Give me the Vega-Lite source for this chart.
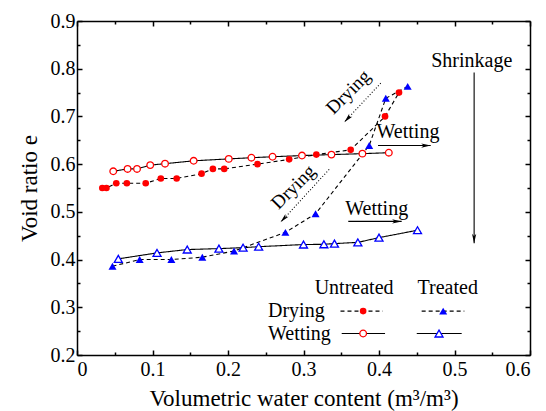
{
  "$schema": "https://vega.github.io/schema/vega-lite/v6.json",
  "width": 453,
  "height": 334,
  "autosize": {"type": "none"},
  "padding": {"left": 77, "top": 21, "right": 16, "bottom": 56},
  "config": {
    "view": {"stroke": null},
    "font": "Liberation Serif, Times New Roman, DejaVu Serif, serif",
    "text": {"font": "Liberation Serif, Times New Roman, DejaVu Serif, serif"},
    "axis": {
      "domainColor": "black", "domainWidth": 1.5, "tickColor": "black", "tickWidth": 1.5,
      "labelColor": "black", "titleColor": "black", "grid": false,
      "labelFont": "Liberation Serif, Times New Roman, DejaVu Serif, serif", "titleFont": "Liberation Serif, Times New Roman, DejaVu Serif, serif",
      "labelFontSize": 20, "titleFontSize": 23, "titleFontWeight": "normal"
    }
  },
  "datasets": {
    "pts": [
      {"treat": "Untreated", "phase": "Drying", "x": 0.0335, "y": 0.550},
      {"treat": "Untreated", "phase": "Drying", "x": 0.039, "y": 0.550},
      {"treat": "Untreated", "phase": "Drying", "x": 0.052, "y": 0.560},
      {"treat": "Untreated", "phase": "Drying", "x": 0.066, "y": 0.560},
      {"treat": "Untreated", "phase": "Drying", "x": 0.091, "y": 0.560},
      {"treat": "Untreated", "phase": "Drying", "x": 0.111, "y": 0.570},
      {"treat": "Untreated", "phase": "Drying", "x": 0.132, "y": 0.570},
      {"treat": "Untreated", "phase": "Drying", "x": 0.165, "y": 0.580},
      {"treat": "Untreated", "phase": "Drying", "x": 0.180, "y": 0.590},
      {"treat": "Untreated", "phase": "Drying", "x": 0.195, "y": 0.590},
      {"treat": "Untreated", "phase": "Drying", "x": 0.239, "y": 0.600},
      {"treat": "Untreated", "phase": "Drying", "x": 0.281, "y": 0.610},
      {"treat": "Untreated", "phase": "Drying", "x": 0.317, "y": 0.620},
      {"treat": "Untreated", "phase": "Drying", "x": 0.3625, "y": 0.630},
      {"treat": "Untreated", "phase": "Drying", "x": 0.408, "y": 0.700},
      {"treat": "Untreated", "phase": "Drying", "x": 0.4265, "y": 0.750},
      {"treat": "Untreated", "phase": "Wetting", "x": 0.048, "y": 0.585},
      {"treat": "Untreated", "phase": "Wetting", "x": 0.067, "y": 0.590},
      {"treat": "Untreated", "phase": "Wetting", "x": 0.0795, "y": 0.590},
      {"treat": "Untreated", "phase": "Wetting", "x": 0.097, "y": 0.598},
      {"treat": "Untreated", "phase": "Wetting", "x": 0.1166, "y": 0.601},
      {"treat": "Untreated", "phase": "Wetting", "x": 0.1545, "y": 0.607},
      {"treat": "Untreated", "phase": "Wetting", "x": 0.201, "y": 0.611},
      {"treat": "Untreated", "phase": "Wetting", "x": 0.231, "y": 0.6135},
      {"treat": "Untreated", "phase": "Wetting", "x": 0.259, "y": 0.6155},
      {"treat": "Untreated", "phase": "Wetting", "x": 0.298, "y": 0.618},
      {"treat": "Untreated", "phase": "Wetting", "x": 0.337, "y": 0.620},
      {"treat": "Untreated", "phase": "Wetting", "x": 0.378, "y": 0.622},
      {"treat": "Untreated", "phase": "Wetting", "x": 0.413, "y": 0.624},
      {"treat": "Treated", "phase": "Drying", "x": 0.047, "y": 0.386},
      {"treat": "Treated", "phase": "Drying", "x": 0.083, "y": 0.400},
      {"treat": "Treated", "phase": "Drying", "x": 0.125, "y": 0.400},
      {"treat": "Treated", "phase": "Drying", "x": 0.166, "y": 0.405},
      {"treat": "Treated", "phase": "Drying", "x": 0.208, "y": 0.418},
      {"treat": "Treated", "phase": "Drying", "x": 0.276, "y": 0.457},
      {"treat": "Treated", "phase": "Drying", "x": 0.316, "y": 0.496},
      {"treat": "Treated", "phase": "Drying", "x": 0.387, "y": 0.639},
      {"treat": "Treated", "phase": "Drying", "x": 0.409, "y": 0.738},
      {"treat": "Treated", "phase": "Drying", "x": 0.438, "y": 0.763},
      {"treat": "Treated", "phase": "Wetting", "x": 0.0547, "y": 0.4015},
      {"treat": "Treated", "phase": "Wetting", "x": 0.106, "y": 0.414},
      {"treat": "Treated", "phase": "Wetting", "x": 0.146, "y": 0.421},
      {"treat": "Treated", "phase": "Wetting", "x": 0.188, "y": 0.423},
      {"treat": "Treated", "phase": "Wetting", "x": 0.220, "y": 0.425},
      {"treat": "Treated", "phase": "Wetting", "x": 0.2406, "y": 0.427},
      {"treat": "Treated", "phase": "Wetting", "x": 0.300, "y": 0.4315},
      {"treat": "Treated", "phase": "Wetting", "x": 0.327, "y": 0.432},
      {"treat": "Treated", "phase": "Wetting", "x": 0.341, "y": 0.4335},
      {"treat": "Treated", "phase": "Wetting", "x": 0.372, "y": 0.436},
      {"treat": "Treated", "phase": "Wetting", "x": 0.400, "y": 0.446},
      {"treat": "Treated", "phase": "Wetting", "x": 0.451, "y": 0.4615}
    ],
    "legendLines": [
      {"treat": "Untreated", "phase": "Drying", "x": 0.349, "x2": 0.405, "y": 0.292},
      {"treat": "Treated", "phase": "Drying", "x": 0.4565, "x2": 0.513, "y": 0.292},
      {"treat": "Untreated", "phase": "Wetting", "x": 0.3506, "x2": 0.408, "y": 0.245},
      {"treat": "Treated", "phase": "Wetting", "x": 0.45, "x2": 0.5095, "y": 0.245}
    ],
    "legendPts": [
      {"treat": "Untreated", "phase": "Drying", "x": 0.379, "y": 0.292},
      {"treat": "Treated", "phase": "Drying", "x": 0.485, "y": 0.292},
      {"treat": "Untreated", "phase": "Wetting", "x": 0.379, "y": 0.245},
      {"treat": "Treated", "phase": "Wetting", "x": 0.4795, "y": 0.245}
    ],
    "legendHead": [
      {"label": "Untreated", "x": 0.367, "y": 0.340},
      {"label": "Treated", "x": 0.491, "y": 0.340}
    ],
    "legendRow": [
      {"label": "Drying", "x": 0.253, "y": 0.292},
      {"label": "Wetting", "x": 0.253, "y": 0.245}
    ],
    "notes": [
      {"label": "Shrinkage", "x": 0.5228, "y": 0.817},
      {"label": "Wetting", "x": 0.4384, "y": 0.667},
      {"label": "Wetting", "x": 0.397, "y": 0.507}
    ],
    "notesRot": [
      {"label": "Drying", "x": 0.3593, "y": 0.751},
      {"label": "Drying", "x": 0.2865, "y": 0.552}
    ],
    "solidArrows": [
      {"name": "Shrinkage", "x": 0.526, "y": 0.792, "x2": 0.526, "y2": 0.434},
      {"name": "Wetting", "x": 0.3987, "y": 0.639, "x2": 0.4685, "y2": 0.639},
      {"name": "Wetting", "x": 0.3593, "y": 0.480, "x2": 0.430, "y2": 0.480}
    ],
    "dottedArrows": [
      {"name": "Drying", "x": 0.4023, "y": 0.7697, "x2": 0.354, "y2": 0.688},
      {"name": "Drying", "x": 0.334, "y": 0.589, "x2": 0.2695, "y2": 0.478}
    ]
  },
  "encoding": {
    "x": {"field": "x", "type": "quantitative", "scale": {"domain": [0, 0.6], "nice": false, "zero": false}, "axis": null},
    "y": {"field": "y", "type": "quantitative", "scale": {"domain": [0.2, 0.9], "nice": false, "zero": false}, "axis": null}
  },
  "layer": [
    {
      "data": {"name": "pts"},
      "mark": {"type": "line", "color": "black", "strokeWidth": 1.1},
      "encoding": {
        "x": {"field": "x", "type": "quantitative", "scale": {"domain": [0, 0.6], "nice": false, "zero": false},
          "axis": {"orient": "bottom", "values": [0, 0.1, 0.2, 0.3, 0.4, 0.5, 0.6], "format": ".1~f", "tickSize": -5, "labelPadding": 9, "title": "Volumetric water content (m³/m³)", "titlePadding": 8}},
        "y": {"field": "y", "type": "quantitative", "scale": {"domain": [0.2, 0.9], "nice": false, "zero": false},
          "axis": {"orient": "left", "values": [0.2, 0.3, 0.4, 0.5, 0.6, 0.7, 0.8, 0.9], "format": ".1f", "tickSize": -5, "labelPadding": 7, "title": "Void ratio e", "titlePadding": 9}},
        "detail": {"field": "treat"},
        "strokeDash": {"field": "phase", "type": "nominal", "scale": {"domain": ["Drying", "Wetting"], "range": [[4, 3], [1, 0]]}, "legend": null}
      }
    },
    {
      "data": {"name": "pts"},
      "transform": [{"filter": "datum.phase == 'Drying'"}],
      "mark": {"type": "point", "filled": true, "opacity": 1},
      "encoding": {
        "x": {"field": "x", "type": "quantitative", "scale": {"domain": [0, 0.6], "nice": false, "zero": false},
          "axis": {"orient": "bottom", "values": [0.05, 0.15, 0.25, 0.35, 0.45, 0.55], "labels": false, "domain": false, "tickSize": -3, "title": null}},
        "y": {"field": "y", "type": "quantitative", "scale": {"domain": [0.2, 0.9], "nice": false, "zero": false},
          "axis": {"orient": "left", "values": [0.25, 0.35, 0.45, 0.55, 0.65, 0.75, 0.85], "labels": false, "domain": false, "tickSize": -3, "title": null}},
        "shape": {"field": "treat", "type": "nominal", "scale": {"domain": ["Untreated", "Treated"], "range": ["circle", "triangle-up"]}, "legend": null},
        "color": {"field": "treat", "type": "nominal", "scale": {"domain": ["Untreated", "Treated"], "range": ["#ff0000", "#0000ff"]}, "legend": null},
        "size": {"field": "treat", "type": "nominal", "scale": {"domain": ["Untreated", "Treated"], "range": [44, 64]}, "legend": null}
      }
    },
    {
      "data": {"name": "pts"},
      "transform": [{"filter": "datum.phase == 'Wetting'"}],
      "mark": {"type": "point", "filled": false, "fill": "white", "fillOpacity": 1, "strokeWidth": 1.3, "opacity": 1},
      "encoding": {
        "x": {"field": "x", "type": "quantitative", "scale": {"domain": [0, 0.6], "nice": false, "zero": false},
          "axis": {"orient": "top", "values": [0, 0.1, 0.2, 0.3, 0.4, 0.5, 0.6], "labels": false, "tickSize": -5, "title": null}},
        "y": {"field": "y", "type": "quantitative", "scale": {"domain": [0.2, 0.9], "nice": false, "zero": false},
          "axis": {"orient": "right", "values": [0.2, 0.3, 0.4, 0.5, 0.6, 0.7, 0.8, 0.9], "labels": false, "tickSize": -5, "title": null}},
        "shape": {"field": "treat", "type": "nominal", "scale": {"domain": ["Untreated", "Treated"], "range": ["circle", "triangle-up"]}, "legend": null},
        "stroke": {"field": "treat", "type": "nominal", "scale": {"domain": ["Untreated", "Treated"], "range": ["#ff0000", "#0000ff"]}, "legend": null},
        "size": {"field": "treat", "type": "nominal", "scale": {"domain": ["Untreated", "Treated"], "range": [32, 42]}, "legend": null}
      }
    },
    {
      "data": {"name": "legendLines"},
      "mark": {"type": "rule", "color": "black", "strokeWidth": 1.1},
      "encoding": {
        "x": {"field": "x", "type": "quantitative", "scale": {"domain": [0, 0.6], "nice": false, "zero": false},
          "axis": {"orient": "top", "values": [0.05, 0.15, 0.25, 0.35, 0.45, 0.55], "labels": false, "domain": false, "tickSize": -3, "title": null}},
        "x2": {"field": "x2"},
        "y": {"field": "y", "type": "quantitative", "scale": {"domain": [0.2, 0.9], "nice": false, "zero": false},
          "axis": {"orient": "right", "values": [0.25, 0.35, 0.45, 0.55, 0.65, 0.75, 0.85], "labels": false, "domain": false, "tickSize": -3, "title": null}},
        "strokeDash": {"field": "phase", "type": "nominal", "scale": {"domain": ["Drying", "Wetting"], "range": [[3, 3], [1, 0]]}, "legend": null}
      }
    },
    {
      "data": {"name": "legendPts"},
      "transform": [{"filter": "datum.phase == 'Drying'"}],
      "mark": {"type": "point", "filled": true, "opacity": 1},
      "encoding": {
        "shape": {"field": "treat", "type": "nominal", "scale": {"domain": ["Untreated", "Treated"], "range": ["circle", "triangle-up"]}, "legend": null},
        "color": {"field": "treat", "type": "nominal", "scale": {"domain": ["Untreated", "Treated"], "range": ["#ff0000", "#0000ff"]}, "legend": null},
        "size": {"field": "treat", "type": "nominal", "scale": {"domain": ["Untreated", "Treated"], "range": [44, 64]}, "legend": null}
      }
    },
    {
      "data": {"name": "legendPts"},
      "transform": [{"filter": "datum.phase == 'Wetting'"}],
      "mark": {"type": "point", "filled": false, "fill": "white", "fillOpacity": 1, "strokeWidth": 1.3, "opacity": 1},
      "encoding": {
        "shape": {"field": "treat", "type": "nominal", "scale": {"domain": ["Untreated", "Treated"], "range": ["circle", "triangle-up"]}, "legend": null},
        "stroke": {"field": "treat", "type": "nominal", "scale": {"domain": ["Untreated", "Treated"], "range": ["#ff0000", "#0000ff"]}, "legend": null},
        "size": {"field": "treat", "type": "nominal", "scale": {"domain": ["Untreated", "Treated"], "range": [32, 42]}, "legend": null}
      }
    },
    {
      "data": {"name": "legendHead"},
      "mark": {"type": "text", "fontSize": 20, "align": "center", "baseline": "middle", "color": "black"},
      "encoding": {"text": {"field": "label"}}
    },
    {
      "data": {"name": "legendRow"},
      "mark": {"type": "text", "fontSize": 20, "align": "left", "baseline": "middle", "color": "black"},
      "encoding": {"text": {"field": "label"}}
    },
    {
      "data": {"name": "notes"},
      "mark": {"type": "text", "fontSize": 20, "align": "center", "baseline": "middle", "color": "black"},
      "encoding": {"text": {"field": "label"}}
    },
    {
      "data": {"name": "notesRot"},
      "mark": {"type": "text", "fontSize": 19, "align": "center", "baseline": "middle", "angle": 315, "color": "black"},
      "encoding": {"text": {"field": "label"}}
    },
    {
      "data": {"name": "solidArrows"},
      "mark": {"type": "rule", "color": "black", "strokeWidth": 1.1},
      "encoding": {"x2": {"field": "x2"}, "y2": {"field": "y2"}}
    },
    {
      "data": {"name": "dottedArrows"},
      "mark": {"type": "rule", "color": "black", "strokeWidth": 1.1, "strokeDash": [1, 2]},
      "encoding": {"x2": {"field": "x2"}, "y2": {"field": "y2"}}
    },
    {
      "data": {"name": "solidArrows"},
      "transform": [{"filter": "datum.name == 'Shrinkage'"}],
      "mark": {"type": "point", "shape": "M0,0L-0.45,2L0,1.5L0.45,2Z", "filled": true, "color": "black", "opacity": 1, "size": 90, "angle": 180},
      "encoding": {"x": {"field": "x2", "type": "quantitative", "scale": {"domain": [0, 0.6], "nice": false, "zero": false}, "axis": null},
                   "y": {"field": "y2", "type": "quantitative", "scale": {"domain": [0.2, 0.9], "nice": false, "zero": false}, "axis": null}}
    },
    {
      "data": {"name": "solidArrows"},
      "transform": [{"filter": "datum.name == 'Wetting'"}],
      "mark": {"type": "point", "shape": "M0,0L-0.45,2L0,1.5L0.45,2Z", "filled": true, "color": "black", "opacity": 1, "size": 90, "angle": 90},
      "encoding": {"x": {"field": "x2", "type": "quantitative", "scale": {"domain": [0, 0.6], "nice": false, "zero": false}, "axis": null},
                   "y": {"field": "y2", "type": "quantitative", "scale": {"domain": [0.2, 0.9], "nice": false, "zero": false}, "axis": null}}
    },
    {
      "data": {"name": "dottedArrows"},
      "mark": {"type": "point", "shape": "M0,0L-0.45,2L0,1.5L0.45,2Z", "filled": true, "color": "black", "opacity": 1, "size": 90, "angle": 223},
      "encoding": {"x": {"field": "x2", "type": "quantitative", "scale": {"domain": [0, 0.6], "nice": false, "zero": false}, "axis": null},
                   "y": {"field": "y2", "type": "quantitative", "scale": {"domain": [0.2, 0.9], "nice": false, "zero": false}, "axis": null}}
    }
  ],
  "resolve": {"axis": {"x": "independent", "y": "independent"}}
}
